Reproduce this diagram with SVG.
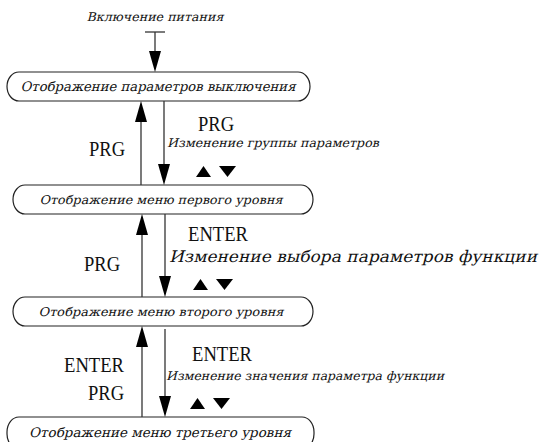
<svg xmlns="http://www.w3.org/2000/svg" width="541" height="442" viewBox="0 0 541 442">
<style>
.box{fill:#fff;stroke:#222;stroke-width:1.2}
.ln{stroke:#333;stroke-width:1.3;fill:none}
.it{font-family:"DejaVu Serif","Liberation Serif",serif;fill:#111}
.key{font-family:"Liberation Serif","Times New Roman",serif;fill:#111;font-size:20px}
.tri{fill:#000}
</style>
<rect width="541" height="442" fill="#fff"/>
<text class="it" transform="translate(155,21) skewX(-14)" font-size="12" text-anchor="middle" textLength="137" lengthAdjust="spacingAndGlyphs">Включение питания</text>
<g id="node1">
<rect class="box" x="7" y="72" width="303" height="29" rx="12" ry="14.5"/>
<text class="it" transform="translate(158,91) skewX(-14)" font-size="13" text-anchor="middle" textLength="275" lengthAdjust="spacingAndGlyphs">Отображение параметров выключения</text>
</g>
<g id="node2">
<rect class="box" x="13" y="185" width="300" height="29" rx="12" ry="14.5"/>
<text class="it" transform="translate(161,204) skewX(-14)" font-size="12" text-anchor="middle" textLength="243" lengthAdjust="spacingAndGlyphs">Отображение меню первого уровня</text>
</g>
<g id="node3">
<rect class="box" x="13" y="297" width="300" height="29" rx="12" ry="14.5"/>
<text class="it" transform="translate(161,316) skewX(-14)" font-size="12" text-anchor="middle" textLength="245" lengthAdjust="spacingAndGlyphs">Отображение меню второго уровня</text>
</g>
<g id="node4">
<rect class="box" x="7" y="417" width="307" height="32" rx="12" ry="15"/>
<text class="it" transform="translate(160,437) skewX(-14)" font-size="13" text-anchor="middle" textLength="262" lengthAdjust="spacingAndGlyphs">Отображение меню третьего уровня</text>
</g>
<g id="connectors">
<line class="ln" x1="145" y1="32" x2="165" y2="32"/>
<line class="ln" x1="155" y1="32" x2="155" y2="55"/>
<polygon class="tri" points="149,51 155,72 161,51"/>
<line class="ln" x1="141" y1="185" x2="141" y2="118"/>
<polygon class="tri" points="135,122 141,101 147,122"/>
<line class="ln" x1="164" y1="101" x2="164" y2="168"/>
<polygon class="tri" points="158,164 164,185 170,164"/>
<line class="ln" x1="142" y1="297" x2="142" y2="231"/>
<polygon class="tri" points="136,235 142,214 148,235"/>
<line class="ln" x1="165" y1="214" x2="165" y2="280"/>
<polygon class="tri" points="159,276 165,297 171,276"/>
<line class="ln" x1="142" y1="417" x2="142" y2="343"/>
<polygon class="tri" points="136,347 142,326 148,347"/>
<line class="ln" x1="165" y1="329" x2="165" y2="400"/>
<polygon class="tri" points="159,396 165,417 171,396"/>
</g>
<g id="labels">
<text class="key" x="89" y="156" textLength="36" lengthAdjust="spacingAndGlyphs">PRG</text>
<text class="key" x="198" y="131" textLength="36" lengthAdjust="spacingAndGlyphs">PRG</text>
<text class="it" transform="translate(167,147) skewX(-14)" font-size="12" textLength="212" lengthAdjust="spacingAndGlyphs">Изменение группы параметров</text>
<polygon class="tri" points="196,177 203.5,166 211,177"/>
<polygon class="tri" points="219,166 236,166 227.5,177"/>
<text class="key" x="188" y="241" textLength="60" lengthAdjust="spacingAndGlyphs">ENTER</text>
<text class="it" transform="translate(169,262) skewX(-14)" font-size="16" textLength="368" lengthAdjust="spacingAndGlyphs">Изменение выбора параметров функции</text>
<text class="key" x="84" y="271" textLength="36" lengthAdjust="spacingAndGlyphs">PRG</text>
<polygon class="tri" points="193,290 200.5,279 208,290"/>
<polygon class="tri" points="216,279 233,279 224.5,290"/>
<text class="key" x="64" y="372" textLength="60" lengthAdjust="spacingAndGlyphs">ENTER</text>
<text class="key" x="88" y="400" textLength="36" lengthAdjust="spacingAndGlyphs">PRG</text>
<text class="key" x="192" y="361" textLength="60" lengthAdjust="spacingAndGlyphs">ENTER</text>
<text class="it" transform="translate(166,380) skewX(-14)" font-size="12" textLength="278" lengthAdjust="spacingAndGlyphs">Изменение значения параметра функции</text>
<polygon class="tri" points="190,409 197.5,398 205,409"/>
<polygon class="tri" points="213,398 230,398 221.5,409"/>
</g>
</svg>
